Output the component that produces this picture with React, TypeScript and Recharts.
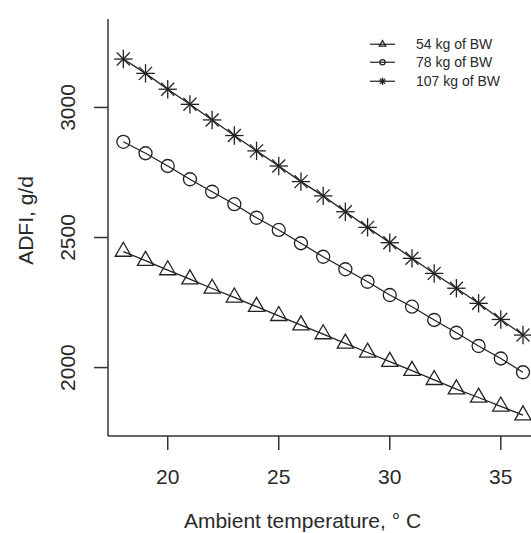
import { LineChart, Line, XAxis, YAxis, Legend } from 'recharts';

const temps = [18, 19, 20, 21, 22, 23, 24, 25, 26, 27, 28, 29, 30, 31, 32, 33, 34, 35, 36];
const bw54 = [2446, 2411, 2375, 2340, 2304, 2270, 2234, 2199, 2163, 2129, 2093, 2058, 2023, 1988, 1953, 1917, 1885, 1851, 1817];
const bw78 = [2868, 2824, 2775, 2724, 2676, 2628, 2576, 2529, 2478, 2426, 2378, 2330, 2279, 2234, 2183, 2134, 2083, 2035, 1982];
const bw107 = [3186, 3131, 3070, 3012, 2952, 2892, 2833, 2775, 2715, 2660, 2599, 2539, 2480, 2420, 2362, 2305, 2247, 2185, 2125];
const xTicks = [20, 25, 30, 35];
const yTicks = [2000, 2500, 3000];
const seriesNames = ['54 kg of BW', '78 kg of BW', '107 kg of BW'];

const data = temps.map((t, i) => ({ t, bw54: bw54[i], bw78: bw78[i], bw107: bw107[i] }));

const FONT = '"Liberation Sans", Arial, sans-serif';
const INK = '#222';
const TEXT = '#2a2a2a';

type Shape = 'triangle' | 'circle' | 'star';

function Marker({ kind, cx, cy, s = 1 }: { kind: Shape; cx: number; cy: number; s?: number }) {
  if (kind === 'circle') {
    return <circle cx={cx} cy={cy} r={6.5 * s} fill="none" stroke={INK} strokeWidth={1.3} />;
  }
  if (kind === 'triangle') {
    const d = `M${cx},${cy - 9.3 * s} L${cx + 8.1 * s},${cy + 4.7 * s} L${cx - 8.1 * s},${cy + 4.7 * s} Z`;
    return <path d={d} fill="none" stroke={INK} strokeWidth={1.3} />;
  }
  const a = 9.2 * s;
  const b = 6.5 * s;
  return (
    <g stroke={INK} strokeWidth={1.3}>
      <line x1={cx - a} y1={cy} x2={cx + a} y2={cy} />
      <line x1={cx} y1={cy - a} x2={cx} y2={cy + a} />
      <line x1={cx - b} y1={cy - b} x2={cx + b} y2={cy + b} />
      <line x1={cx - b} y1={cy + b} x2={cx + b} y2={cy - b} />
    </g>
  );
}

const dotFor = (kind: Shape) => (props: any) => (
  <Marker key={`${kind}-${props.index}`} kind={kind} cx={props.cx} cy={props.cy} />
);

function XTick({ x, y, payload }: any) {
  return (
    <text x={x} y={y + 32} textAnchor="middle" fontSize={21} fill={TEXT} fontFamily={FONT}>
      {payload.value}
    </text>
  );
}

function YTick({ x, y, payload }: any) {
  return (
    <text x={x - 17} y={y} transform={`rotate(-90, ${x - 17}, ${y})`} textAnchor="middle" fontSize={21} fill={TEXT} fontFamily={FONT}>
      {payload.value}
    </text>
  );
}

const kinds: Shape[] = ['triangle', 'circle', 'star'];

function LegendBox() {
  return (
    <div style={{ fontFamily: FONT, fontSize: 14, color: TEXT }}>
      {seriesNames.map((name, i) => (
        <div key={name} style={{ display: 'flex', alignItems: 'center', height: 18.5 }}>
          <svg width={30} height={18.5} style={{ display: 'block' }}>
            <line x1={4} y1={9.25} x2={29} y2={9.25} stroke={INK} strokeWidth={1.2} />
            <Marker kind={kinds[i]} cx={16.5} cy={9.25} s={0.4} />
          </svg>
          <span style={{ marginLeft: 20, lineHeight: '18.5px' }}>{name}</span>
        </div>
      ))}
    </div>
  );
}

export default function App() {
  return (
    <div style={{ position: 'absolute', left: 0, top: 0, width: 531, height: 533, background: '#fff' }}>
      <LineChart width={531} height={533} data={data} margin={{ top: 19, right: 0, left: 0, bottom: 0 }}>
        <XAxis
          dataKey="t"
          type="number"
          domain={[17.31, 36.36]}
          ticks={xTicks}
          tickSize={14}
          height={97}
          axisLine={{ stroke: '#333', strokeWidth: 1.5 }}
          tickLine={{ stroke: '#333', strokeWidth: 1.5 }}
          tick={<XTick />}
          label={{
            content: ({ viewBox }: any) => (
              <text x={viewBox.x + viewBox.width / 2 - 17} y={viewBox.y + 92} textAnchor="middle" fontSize={21} fill={TEXT} fontFamily={FONT}>
                Ambient temperature, ° C
              </text>
            ),
          }}
        />
        <YAxis
          type="number"
          domain={[1737, 3340]}
          ticks={yTicks}
          tickSize={14}
          width={108}
          axisLine={{ stroke: '#333', strokeWidth: 1.5 }}
          tickLine={{ stroke: '#333', strokeWidth: 1.5 }}
          tick={<YTick />}
          label={{
            content: ({ viewBox }: any) => {
              const cx = viewBox.x + 33;
              const cy = viewBox.y + viewBox.height / 2 - 7;
              return (
                <text x={cx} y={cy} transform={`rotate(-90, ${cx}, ${cy})`} textAnchor="middle" fontSize={21} fill={TEXT} fontFamily={FONT}>
                  ADFI, g/d
                </text>
              );
            },
          }}
        />
        <Legend
          layout="vertical"
          align="center"
          verticalAlign="middle"
          content={<LegendBox />}
          wrapperStyle={{ position: 'absolute', left: 366, top: 34.75, width: 'auto' }}
        />
        <Line dataKey="bw54" name={seriesNames[0]} stroke={INK} strokeWidth={1.3} dot={dotFor('triangle')} isAnimationActive={false} />
        <Line dataKey="bw78" name={seriesNames[1]} stroke={INK} strokeWidth={1.3} dot={dotFor('circle')} isAnimationActive={false} />
        <Line dataKey="bw107" name={seriesNames[2]} stroke={INK} strokeWidth={1.3} dot={dotFor('star')} isAnimationActive={false} />
      </LineChart>
    </div>
  );
}
